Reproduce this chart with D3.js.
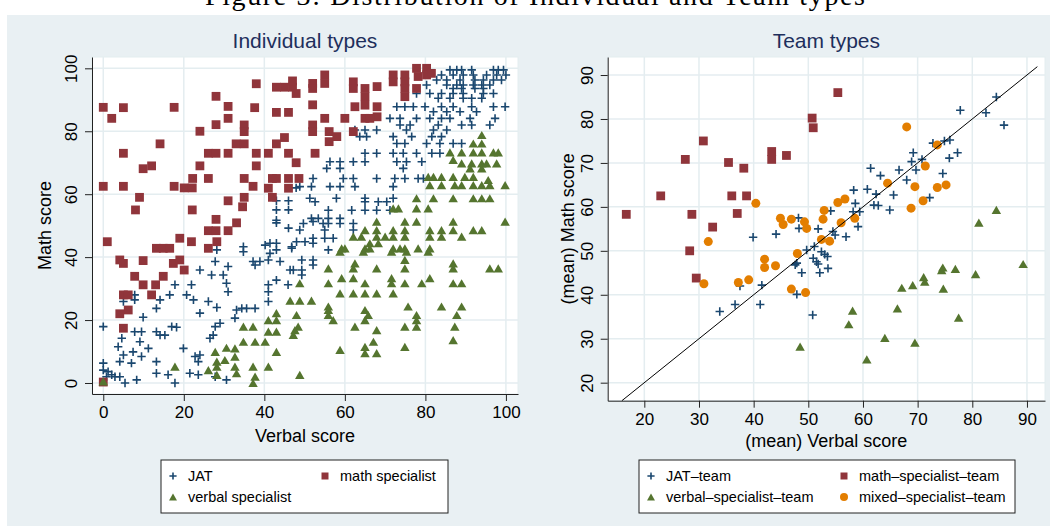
<!DOCTYPE html>
<html>
<head>
<meta charset="utf-8">
<script src="https://cdn.jsdelivr.net/npm/d3@7"></script>
<style>
  body { margin: 0; background: #fff; }
  text { font-family: "Liberation Sans", Arial, sans-serif; }
</style>
</head>
<body>
<svg class="fig" width="1052" height="532"></svg>
<script>
// tick values
const indTicks = [0, 20, 40, 60, 80, 100]
const teamTicks = [20, 30, 40, 50, 60, 70, 80, 90]

// individual types: [verbal score, math score]
const jatInd = [
  [86.1,99.5],[87.8,99.5],[89,99.5],[91.5,99.5],[96.9,99.5],[98.1,99.5],[99.4,99.5],
  [84,97.9],[86.9,97.9],[89.4,97.9],[91.9,97.9],[95.2,97.9],[97.7,97.9],[100,97.9],
  [82.8,96.3],[85.3,96.3],[88.6,96.3],[92.3,96.3],[94.4,96.3],[96.9,96.3],[98.9,96.3],
  [80.3,94.7],[85.3,94.7],[87.8,94.7],[89.4,94.7],[91.9,94.7],[94,94.7],[96,94.7],
  [86.9,93.6],[89,93.6],[92.3,93.6],[94.4,93.6],
  [77.8,92],[81.1,92],[84,92],[86.9,92],[89.4,92],[94.4,92],[96.9,92],
  [83.2,90.5],[86.1,90.5],[89.4,90.5],[91.5,90.5],[94,90.5],
  [72.9,87.8],[74.9,87.8],[77,87.8],[79.9,87.8],[84,87.8],[86.9,87.8],[91.5,87.8],[96.9,87.8],[99.8,87.8],
  [82,86.2],[85.3,86.2],[88.6,86.2],[92.7,86.2],
  [71.2,84.1],[73.7,84.1],[77.8,84.1],[81.1,84.1],[84,84.1],[86.1,84.1],[91.1,84.1],[97.3,84.1],
  [73.7,82],[76.2,82],[83.2,82],[89,82],[91.5,82],[96,82],
  [62.5,80.4],[65,80.4],[67.9,80.4],[75.3,80.4],[82,80.4],[85.3,80.4],
  [63.7,78.3],[65.4,78.3],[72,78.3],[76.6,78.3],[81.6,78.3],[84,78.3],
  [72.9,76.1],[74.9,76.1],[80.3,76.1],[83.6,76.1],[86.9,76.1],[89,76.1],
  [65,73],[67.9,73],[72,73],[74.5,73],[77.8,73],[81.6,73],[83.6,73],
  [56.3,70.3],[58.8,70.3],[62.1,70.3],[65,70.3],[72.9,70.3],[75.3,70.3],[79.1,70.3],
  [55.5,68.2],[58.8,68.2],[74.5,68.2],
  [52.1,65],[59.6,65],[62.1,65],[67.9,65],[72.4,65],[74.9,65],[78.2,65],[79.5,65],
  [48.8,62.4],[51.7,62.4],[56.3,62.4],[58.8,62.4],[62.5,62.4],[72,62.4],
  [51.3,58.7],[57.9,58.7],[65,58.7],[72,58.7],
  [52.6,57.6],[65,57.6],[68.3,57.6],[70.4,57.6],
  [55.9,54.9],[61.7,54.9],[65,54.9],[67.9,54.9],[71.2,54.9],
  [51.7,52.3],[53.4,52.3],[55.9,52.3],[58.8,52.3],
  [49.7,50.7],[54.6,50.7],[58.8,50.7],[62.1,50.7],
  [48.8,48.6],[55,48.6],[62.1,48.6],[52.1,51.3],[55.9,50.7],
  [43,57.9],[46,57.9],[43,55],[46,55],[43,51.7],[43,50.9],[46,49.2],[47.9,62],
  [48,44.9],[50.1,44.9],[52.1,46],[52.1,44.4],[55,46],[57.1,46],[55.9,42.3],[46.8,42.8],
  [49.3,39.1],[52.1,39.1],[52.1,37.5],[49.3,35.9],[49.3,34.3],[47.2,35.9],
  [28.2,42.3],[27.8,38.6],[34.8,43.3],[34.8,41.7],[40.2,43.8],[41.4,44.4],[43,44.4],[43,42.3],
  [41.4,41.2],[46.8,43.3],[37.2,38.6],[37.7,37.5],[38.9,38.6],[41,39.1],[43.9,38.6],[46.4,35.9],
  [45.9,31.2],[31,37],[24,35.9],[26.9,34.3],[29.8,34.3],[30.6,31.7],[31,29],[21.9,31.2],
  [17.8,31.2],[16.5,28],[20.7,28],[22.4,26.4],[24,22.2],[26.1,25.9],[28.2,24],[27.8,17.9],
  [29,19],[26.5,14.2],[27.3,15.2],[33.1,23.2],[34.4,23.7],[35.6,23.7],[37.7,23.7],[32.7,20.6],
  [41,31.2],[41,29],[41,25.9],[43,32.7],[7.8,28],[7.8,26.4],[5,25.9],[14.1,26.4],
  [13.2,23.7],[9.9,20.9],[7.8,16.3],[9.5,16.3],[13.2,16.3],[14.1,15.2],[15.3,15.2],[17,17.9],
  [18.2,17.7],[4.6,14.2],[3.7,11.5],[5,8.9],[9.1,13.1],[11.2,11],[7.4,9.9],[9.5,8.4],
  [7,6.3],[4.1,6.8],[13.2,6.8],[0,6.3],[0,4.1],[1.2,3.6],[2.1,2.6],[0.8,2],
  [2.9,2],[4.1,2],[5.4,0],[8.3,1],[13.2,3.1],[16.1,2.6],[17.8,0],[19.9,11],
  [21.5,3.1],[23.6,2.6],[22.8,8.4],[24,8.9],[23.6,6.8],[30.6,1],[27.8,2],[0,17.9]
]

const mathInd = [
  [0,87.6],[2.1,84.1],[5,87.5],[17.6,87.6],[0,62.5],[5,62.5],[5,73],[14.1,76],[9.9,68.1],[12,69],
  [9,59],[8,55],[17.6,62.5],[20.1,62],[22.1,62],[22.2,65],[22.1,55],[24,80],[24,69],[26.1,65],
  [26.1,73],[28,73],[28,91.1],[28,82.1],[31,87.9],[31,84.1],[31,73],[31,57.9],[28,52],[26.1,48.4],
  [28,48.4],[31,48.4],[33.1,50.9],[35,82],[35,79.9],[33,76],[35,76],[35,65],[35,59],[34.6,56],
  [37.2,62.5],[38,95.1],[37.6,87.5],[38,73],[38,69],[41,73],[41,61.9],[42,59],[42,65],[43,65],
  [43,76],[45,78],[43,86],[46,86],[43,94],[45,94],[47,94],[47,96],[47.9,92],[46,73],
  [47.9,70],[46,65],[46,61.9],[48.6,65],
  [52,95.2],[52,93.6],[55,97.9],[55,95.2],[62.1,95.7],[62.1,93.6],[65,93.6],[65,91],[68,94.2],[68,87.8],
  [68,84.6],[65,88.3],[62.5,87.8],[60,84.1],[65,84.1],[66.2,84.1],[62.1,79.9],[52,88.4],[52,82],[52,79.9],
  [55,84.1],[56.1,79.9],[56.1,76.7],[58,78.3],[52.6,73],[72,97.9],[72,95.7],[74.9,97.9],[74.9,95.7],[74.9,93.6],
  [74.9,91],[77.8,100],[78.2,97.4],[77.8,93.6],[80.3,100],[80.3,97.9],[81.5,98.4],
  [28.2,44.9],[26.1,42.8],[21.9,44.9],[19,46],[13.2,42.8],[14.9,42.8],[16.5,42.8],[1,44.9],[4.1,39.1],[5,38],
  [9.9,38.9],[17.4,38],[19,39.1],[20.1,35.9],[7.8,33.9],[9.9,31.2],[13,31.2],[14.9,33.9],[12,28],[5,28],
  [6.2,28],[6.2,23.2],[4.1,22],[5,17.4],[0,0.3]
]

const verbalInd = [
  [94,78.8],[91.9,76.1],[94,76.1],[86.1,73.3],[89,73.3],[91.9,73.3],[94,73.3],[96.9,73.3],[98.1,73.3],
  [86.9,70.9],[89,69.8],[91.5,69.8],[94,69.8],[95.2,69.8],[97.7,69.8],[91.1,68.2],[94,68.2],
  [80.7,65.5],[82,65.5],[84,65.5],[86.9,65.5],[89.8,65.5],[91.9,65.5],[95.6,64.5],
  [81.1,62.9],[84,62.9],[87.3,62.9],[89,62.9],[91.9,62.9],[94,62.9],[96,62.9],[99.8,62.9],
  [77.8,58.7],[82,58.7],[86.9,58.7],[91.9,58.7],[94,58.7],[96,58.7],
  [72,55.5],[73.3,55.5],[77.8,55.5],[80.7,55.5],
  [67.9,51.3],[74.9,51.3],[77.8,51.3],[86.9,51.3],[99.8,51.3],
  [65,48.6],[67.9,48.6],[72,48.6],[74.9,48.6],[81.1,48.6],[84,48.6],[86.9,48.6],[91.9,48.6],[94,48.6],
  [62.1,46.5],[64.1,46.5],[67.9,46.5],[70,46.5],[72,46.5],[74.9,46.5],[81.1,46.5],[84,46.5],[89,46.5],
  [66.2,44.4],[68.3,44.4],[59.2,42.8],[60,42.8],[65,42.8],[66.2,42.8],[72,42.8],[73.7,42.8],[74.9,42.8],
  [78.2,42.8],[81.1,42.8],[58.8,41.7],[64.6,41.7],[71.6,41.7],[75.3,41.7],[80.7,41.7],[74.9,39.1],
  [62.5,38],[86.9,38],[55.9,36.4],[62.1,36.4],[67.9,36.4],[74.9,36.4],[86.9,36.4],[96,36.4],[98.1,36.4],
  [59.2,33.3],[62.1,33.3],[71.6,33.3],[81.1,33.3],[48.8,31.7],[55.9,31.7],[65,31.7],[71.6,31.7],
  [74.9,31.7],[79.1,31.7],[86.9,31.7],[89,31.7],[58.8,28.5],[62.1,28.5],[65,28.5],[67.9,28.5],[72,28.5],
  [46.4,26.2],[48.8,26.2],[51.7,26.2],[55.9,24.3],[75.7,24.3],[84,24.3],[89,24.3],[55.9,23.2],[65,23.2],
  [48,21.6],[55.9,21.6],[65.8,21.6],[77.8,21.6],[87.8,21.6],[57.1,20],[65,20],[77.8,20],
  [48.4,17.9],[62.5,17.9],[74.9,17.9],[77.8,17.9],[87.3,17.9],[47.6,16.8],[67.9,16.8],[47.2,15.3],
  [86.9,13.6],[67.1,13.1],[65,11.5],[74.9,11.5],[58.8,10.5],[65,9.5],[67.9,9.5],[48.8,2.6],
  [0,0.5],[17.8,5.2],[26.1,4.1],[28.2,5.2],[28.2,2.6],[27.8,9.9],[28.2,6.8],[30.2,7.3],[30.6,11.2],
  [32.7,11],[32.7,8.4],[32.7,5.2],[33.1,3.1],[37.2,5.2],[37.2,0],[37.7,2],[41,5.2],[34.8,17.9],
  [37.2,17.9],[34.8,13.1],[37.7,13.1],[40.2,13.1],[41,20],[43,22.2],[43,20],[43,16.3],[41,16.3],[43,9.9]
]

// team types: [(mean) verbal score, (mean) math score]
const jatTeam = [
  [39.9,53.1],[44.1,53.8],[48.2,57.5],[48.3,55.1],[49.7,50.2],
  [84.4,85],[82.5,81.4],[85.8,78.6],[77.8,82],[72.8,74.5],[74.9,75],[75.9,75.2],
  [69.2,72.3],[68.9,70.3],[69.7,68.4],[70.8,70.8],[75.8,71.1],[77.3,72.3],[74.6,67.6],
  [61.4,68.8],[63.2,67.1],[66.6,68.4],[68,66.1],[72.2,62.1],[65.6,62.7],[62.4,62.9],
  [60.8,64],[58.3,63.8],[58.6,60.8],[62,60.4],[62.8,60.3],[64.9,59.3],[58.2,58.9],
  [59.4,58.9],[54.1,59.1],[59.1,55.5],[56.9,53.2],[54.5,54.4],[54.9,53.6],[51.8,55],
  [51.1,51],[52.4,49.8],[53,49.2],[50.9,48.3],[51.5,47.5],[53.5,48.7],[51.8,47],
  [53.6,46],[52.1,45],[47.9,47.2],[47.6,46.8],[48.8,45],[47.9,40.1],[50.8,35.4],
  [33.8,36.2],[36.6,37.8],[41.2,37.8],[41.5,42.2],[37.5,42]
]
const mathTeam = [
  [16.7,58.3],[23,62.5],[27.5,70.8],[30.8,75],[28.7,58.3],[28.3,50],[29.5,43.8],[32.5,55.4],
  [35.4,70.1],[36,62.5],[37,58.5],[38.2,68.8],[38.7,62.5],[43.3,72.6],[43.3,70.8],[46,71.7],
  [50.7,80.2],[50.9,78],[55.4,86]
]
const verbalTeam = [
  [81.2,56.4],[84.4,59.3],[74.6,46.2],[74.4,45.6],[76.9,45.9],[80.6,44.7],[89.3,47],
  [71.1,44],[71.3,43],[69.1,42.2],[67.1,41.6],[74.7,41.4],[66.3,36.9],[58.1,36.4],
  [57.4,33.3],[77.5,34.8],[64,30.2],[69.5,29.1],[60.7,25.3],[48.5,28.2]
]
const mixedTeam = [
  [40.4,60.8],[31.7,52.1],[44.9,57.4],[45.4,56],[46.9,57.2],[49.3,56.6],[49.7,55.1],[48,49.4],
  [68,78.2],[73.6,74.1],[71.4,69.3],[64.5,65.4],[69.5,64.6],[73.6,64.4],[75.2,65],[71,61.4],
  [68.8,59.7],[55.4,61],[56.7,61.8],[52.9,59.2],[52.7,57.2],[56,56.4],[58.5,57.4],[52.4,52.6],
  [53.9,52.2],[46.9,41.3],[49.5,40.5],[30.9,42.5],[37.2,42.8],[39.1,43.4],[42,48.1],[42,46.2],[44,46.6]
]
const diagLine = [[15.9, 15.9], [91.9, 91.9]]

const colors = { jat: '#1a476f', math: '#90353b', verbal: '#55752f', mixed: '#e37e00' }
const gridColor = '#e4edf0'
const bgColor = '#e9f0f3'

const shapes = {
  cross: s => `M${-s},0H${s}M0,${-s}V${s}`,
  square: s => `M${-s},${-s}H${s}V${s}H${-s}Z`,
  triangle: s => `M0,${-s * 0.95}L${s * 1.1},${s * 0.95}L${-s * 1.1},${s * 0.95}Z`,
  circle: s => `M${s},0A${s},${s} 0 1,1 ${-s},0A${s},${s} 0 1,1 ${s},0Z`
}

function styleMark(sel, shape, color, size) {
  sel.attr('d', shapes[shape](size))
  if (shape === 'cross') {
    sel.attr('fill', 'none').attr('stroke', color).attr('stroke-width', 1.6)
  } else {
    sel.attr('fill', color).attr('stroke', 'none')
  }
}

const svg = d3.select('.fig')

// caption, cut at the top of the page
svg.append('text')
  .attr('x', 535)
  .attr('y', 5)
  .attr('text-anchor', 'middle')
  .attr('textLength', 660)
  .style('font-family', '"Liberation Serif", "DejaVu Serif", serif')
  .style('font-size', '28px')
  .text('Figure 3: Distribution of Individual and Team types')

svg.append('rect')
  .attr('x', 7).attr('y', 15)
  .attr('width', 1043).attr('height', 511)
  .attr('fill', bgColor)

function drawPanel(p) {
  const x = d3.scaleLinear().domain(p.xDomain).range([p.left, p.right])
  const y = d3.scaleLinear().domain(p.yDomain).range([p.bottom, p.top])
  const g = svg.append('g')

  g.append('rect')
    .attr('x', p.left).attr('y', p.top)
    .attr('width', p.right - p.left).attr('height', p.bottom - p.top)
    .attr('fill', 'white')
    .attr('stroke', gridColor)

  g.append('g').selectAll('line')
    .data(p.xTicks)
    .join('line')
    .attr('x1', d => x(d)).attr('x2', d => x(d))
    .attr('y1', p.top).attr('y2', p.bottom)
    .attr('stroke', gridColor).attr('stroke-width', 1.5)

  g.append('g').selectAll('line')
    .data(p.yTicks)
    .join('line')
    .attr('y1', d => y(d)).attr('y2', d => y(d))
    .attr('x1', p.left).attr('x2', p.right)
    .attr('stroke', gridColor).attr('stroke-width', 1.5)

  p.series.forEach(s => {
    g.append('g').selectAll('path')
      .data(s.data)
      .join('path')
      .attr('transform', d => `translate(${x(d[0])},${y(d[1])})`)
      .call(sel => styleMark(sel, s.shape, s.color, s.size))
  })

  if (p.line) {
    g.append('path')
      .datum(p.line)
      .attr('d', d3.line().x(d => x(d[0])).y(d => y(d[1])))
      .attr('fill', 'none')
      .attr('stroke', '#000')
      .attr('stroke-width', 1)
  }

  const yAxis = g.append('g')
    .attr('transform', `translate(${p.left},0)`)
    .attr('color', '#222')
    .call(d3.axisLeft(y).tickValues(p.yTicks).tickSize(7).tickSizeOuter(0))
  yAxis.selectAll('text')
    .attr('transform', 'rotate(-90)')
    .attr('x', 0).attr('y', -15).attr('dy', 0)
    .attr('text-anchor', 'middle')
    .attr('fill', '#000')
    .style('font-size', '17px')

  const xAxis = g.append('g')
    .attr('transform', `translate(0,${p.bottom})`)
    .attr('color', '#222')
    .call(d3.axisBottom(x).tickValues(p.xTicks).tickSize(7).tickSizeOuter(0))
  xAxis.selectAll('text')
    .attr('y', 24).attr('dy', 0)
    .attr('fill', '#000')
    .style('font-size', '17px')

  g.append('text')
    .attr('x', (p.left + p.right) / 2)
    .attr('y', 48)
    .attr('text-anchor', 'middle')
    .attr('fill', '#1e2f5c')
    .style('font-size', '21px')
    .text(p.title)

  g.append('text')
    .attr('x', (p.left + p.right) / 2)
    .attr('y', p.xTitleY)
    .attr('text-anchor', 'middle')
    .style('font-size', '18px')
    .text(p.xTitle)

  g.append('text')
    .attr('transform', `translate(${p.yTitleX},${(p.top + p.bottom) / 2}) rotate(-90)`)
    .attr('text-anchor', 'middle')
    .style('font-size', '18px')
    .text(p.yTitle)

  // legend
  const lg = svg.append('g')
  lg.append('rect')
    .attr('x', p.legend.x).attr('y', 460)
    .attr('width', p.legend.w).attr('height', 53)
    .attr('fill', 'white').attr('stroke', '#222')

  lg.selectAll('g')
    .data(p.legend.items)
    .join('g')
    .each(function (d) {
      const it = d3.select(this)
      it.append('path')
        .attr('transform', `translate(${d.mx},${d.my})`)
        .call(sel => styleMark(sel, d.shape, d.color, d.size))
      it.append('text')
        .attr('x', d.mx + 15)
        .attr('y', d.my + 5)
        .style('font-size', '14.5px')
        .text(d.label)
    })
}

drawPanel({
  left: 92, right: 518, top: 57, bottom: 394,
  xDomain: [-2.8, 103], yDomain: [-3.5, 103.6],
  xTicks: indTicks, yTicks: indTicks,
  title: 'Individual types',
  xTitle: 'Verbal score', xTitleY: 442,
  yTitle: 'Math score', yTitleX: 51,
  series: [
    { data: jatInd, shape: 'cross', color: colors.jat, size: 4.2 },
    { data: mathInd, shape: 'square', color: colors.math, size: 4.4 },
    { data: verbalInd, shape: 'triangle', color: colors.verbal, size: 4.3 }
  ],
  legend: {
    x: 161, w: 287,
    items: [
      { shape: 'cross', color: colors.jat, size: 3.6, mx: 173, my: 476, label: 'JAT' },
      { shape: 'square', color: colors.math, size: 3.5, mx: 325, my: 476, label: 'math specialist' },
      { shape: 'triangle', color: colors.verbal, size: 3.6, mx: 173, my: 497, label: 'verbal specialist' }
    ]
  }
})

drawPanel({
  left: 607.7, right: 1045, top: 57, bottom: 400.7,
  xDomain: [13.3, 93.3], yDomain: [15.9, 94.1],
  xTicks: teamTicks, yTicks: teamTicks,
  title: 'Team types',
  xTitle: '(mean) Verbal score', xTitleY: 447,
  yTitle: '(mean) Math score', yTitleX: 574,
  series: [
    { data: jatTeam, shape: 'cross', color: colors.jat, size: 4.2 },
    { data: mathTeam, shape: 'square', color: colors.math, size: 4.4 },
    { data: verbalTeam, shape: 'triangle', color: colors.verbal, size: 4.3 },
    { data: mixedTeam, shape: 'circle', color: colors.mixed, size: 4.5 }
  ],
  line: diagLine,
  legend: {
    x: 639, w: 376,
    items: [
      { shape: 'cross', color: colors.jat, size: 3.6, mx: 651, my: 476, label: 'JAT\u2013team' },
      { shape: 'square', color: colors.math, size: 3.5, mx: 844, my: 476, label: 'math\u2013specialist\u2013team' },
      { shape: 'triangle', color: colors.verbal, size: 3.6, mx: 651, my: 497, label: 'verbal\u2013specialist\u2013team' },
      { shape: 'circle', color: colors.mixed, size: 4, mx: 844, my: 497, label: 'mixed\u2013specialist\u2013team' }
    ]
  }
})
</script>
</body>
</html>
